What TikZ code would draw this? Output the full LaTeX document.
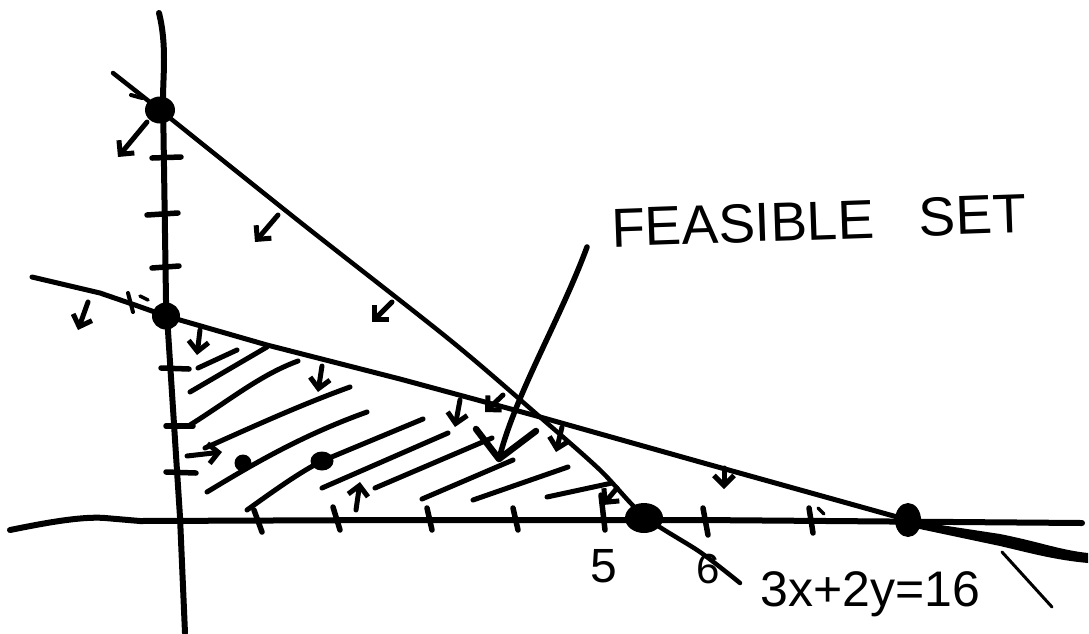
\documentclass[tikz,border=0pt]{standalone}
\usepackage{fontspec}
\setmainfont{Liberation Sans}
\usetikzlibrary{arrows.meta,shapes.geometric}
\begin{document}
\begin{tikzpicture}[x=1pt,y=-1pt,
  axis/.style={line width=6pt,line cap=round,line join=round},
  cline/.style={line width=4.5pt,line cap=round,line join=round},
  hatch/.style={line width=5pt,line cap=round},
  tickmark/.style={line width=5.5pt,line cap=round},
  marrow/.style={line width=5pt,line cap=round,-{Straight Barb[length=10pt,width=20pt,line width=5pt]}},
  dot/.style={ellipse,fill=black,inner sep=0pt},
  pointer/.style={line width=5.5pt,line cap=round,line join=round},
  lbl/.style={inner sep=0pt,anchor=base west}
]
\useasboundingbox (0,0) rectangle (1089,633);

% axes
\draw[axis] (159,13) .. controls (167,45) and (163,75) .. (163,100) -- (166,300) -- (180,517) -- (185,633);
\draw[axis] (10,530) .. controls (40,524) and (80,516) .. (105,518) -- (140,521) -- (400,520) -- (700,520) -- (1082,523);

% intercept points
\node[dot,minimum width=30pt,minimum height=27pt] (P1) at (160,110) {};
\node[dot,minimum width=28pt,minimum height=27pt] (P2) at (166,316) {};
\node[dot,minimum width=38pt,minimum height=30pt] (Q1) at (644,518) {};
\node[dot,minimum width=26pt,minimum height=34pt] (Q2) at (908,520) {};
\node[dot,minimum width=17pt,minimum height=17pt] (d1) at (243,463) {};
\node[dot,minimum width=23pt,minimum height=19pt] (d2) at (322,461) {};

% constraint lines
\coordinate (s0) at (113,73);
\coordinate (s1) at (740,583);
\draw[cline] (s0) -- (P1.center);
\draw[cline] plot[smooth,tension=0.5] coordinates {(160,110) (300,222) (450,340) (540,417) (600,470) (644,516) (700,552) (740,583)};
\coordinate (t0) at (32,277);
\draw[cline,line width=5pt] (t0) -- (100,293) -- (135,305) -- (P2.center) -- (267,345) -- (400,379) -- (533,415) -- (700,462) -- (Q2.center);
\fill (Q2.center) -- (1000,534) .. controls (1040,542) and (1060,550) .. (1088,553) -- (1088,563) .. controls (1055,560) and (1030,553) .. (1000,546) -- (915,528) -- cycle;
\draw[line width=3pt,line cap=round] (1002,552) -- (1052,607);

% y ticks
\draw[tickmark] (152,158) -- (181,157);
\draw[tickmark] (147,215) -- (178,213);
\draw[tickmark] (152,268) -- (179,266);
\draw[tickmark] (161,368) -- (189,369);
\draw[tickmark] (166,426) -- (193,426);
\draw[tickmark] (166,472) -- (196,473);

% x ticks
\draw[tickmark] (254,510) -- (262,532);
\draw[tickmark] (333,507) -- (340,530);
\draw[tickmark] (427,508) -- (432,530);
\draw[tickmark] (513,508) -- (518,530);
\draw[tickmark] (601,495) -- (605,530);
\draw[tickmark] (703,508) -- (708,535);
\draw[tickmark] (809,508) -- (813,533);
\draw[line width=3.5pt,line cap=round] (818,508) -- (824,514);

% hatching
\draw[hatch] (198,368) -- (237,350);
\draw[hatch] (190,392) -- (267,347);
\draw[hatch] (190,425) .. controls (230,400) and (260,375) .. (298,361);
\draw[hatch] (205,448) .. controls (250,428) and (300,405) .. (350,387);
\draw[hatch] (207,492) .. controls (250,466) and (300,436) .. (367,412);
\draw[hatch] (247,510) .. controls (275,490) and (300,472) .. (d2.center) -- (423,419);
\draw[hatch] (322,488) -- (448,433);
\draw[hatch] (375,488) -- (492,438);
\draw[hatch] (422,499) -- (513,460);
\draw[hatch] (473,500) -- (568,467);
\draw[hatch] (547,497) -- (612,483);

% direction markers
\draw[marrow] (147,122) -- (118,157);
\draw[marrow] (278,215) -- (255,242);
\draw[marrow] (392,302) -- (372,322);
\draw[marrow] (88,302) -- (78,330);
\draw[line width=4pt,line cap=round] (128,293) -- (133,312);
\draw[line width=3.5pt,line cap=round] (140,296) -- (148,300);
\draw[line width=4pt,line cap=round] (131,95) -- (142,98);
\draw[marrow] (200,330) -- (197,355);
\draw[marrow] (322,366) -- (318,392);
\draw[marrow] (460,400) -- (455,427);
\draw[marrow] (503,395) -- (485,412);
\draw[marrow] (562,427) -- (556,452);
\draw[marrow] (617,488) -- (603,505);
\draw[marrow] (724,468) -- (724,489);
\draw[marrow] (187,456) -- (222,452);
\draw[marrow] (356,510) -- (360,482);

% pointer
\coordinate (ps) at (587,247);
\coordinate (pt) at (499,459);
\draw[pointer] (ps) .. controls (560,320) and (515,395) .. (pt);
\draw[pointer,line width=6.5pt] (476,429) -- (pt) -- (536,431);

% labels
\node[lbl,rotate=2,font=\fontsize{55}{55}\selectfont] (fs) at (612,247) {FEASIBLE\hspace{45pt}SET};
\node[lbl,font=\fontsize{50}{50}\selectfont] (eq) at (760,606) {3x+2y=16};
\node[inner sep=0pt,anchor=base,font=\fontsize{48}{48}\selectfont] (n5) at (604,582) {5};
\node[inner sep=0pt,anchor=base,font=\fontsize{42}{42}\selectfont] (n6) at (708,583) {6};
\end{tikzpicture}
\end{document}
